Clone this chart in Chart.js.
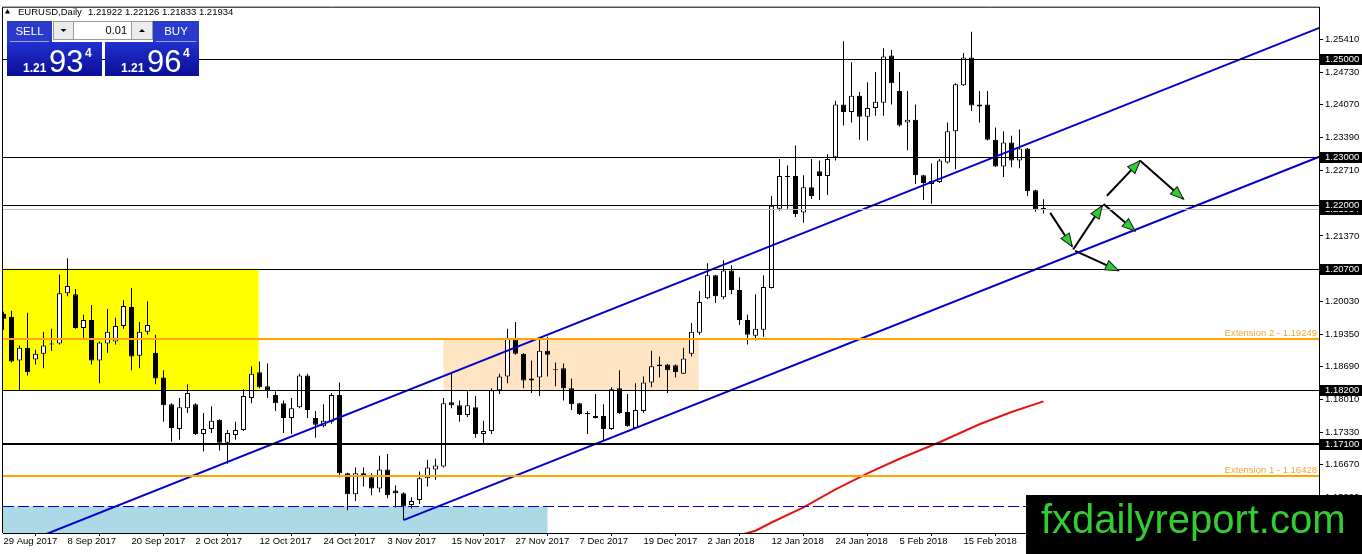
<!DOCTYPE html>
<html lang="en">
<head>
<meta charset="UTF-8">
<title>EURUSD, Daily</title>
<script src="https://cdn.jsdelivr.net/npm/chart.js"></script>
<style>
  html, body { margin: 0; padding: 0; background: #fff; overflow: hidden; }
  canvas { display: block; }
</style>
</head>
<body>
<canvas id="chart" width="1362" height="554"></canvas>
<script>
// ---- candles, one per trading day starting 29 Aug 2017 (bar index = position) ----
const opens = [
  1.1977, 1.1971, 1.1881, 1.1907, 1.1883, 1.1895, 1.1916, 1.1916, 1.2019, 1.2017,
  1.1948, 1.1964, 1.1881, 1.1916, 1.1920, 1.1952, 1.1991, 1.1891, 1.1940, 1.1897,
  1.1846, 1.1791, 1.1740, 1.1783, 1.1791, 1.1730, 1.1740, 1.1759, 1.1712, 1.1728,
  1.1738, 1.1804, 1.1857, 1.1828, 1.1810, 1.1793, 1.1763, 1.1785, 1.1850, 1.1763,
  1.1746, 1.1755, 1.1810, 1.1649, 1.1606, 1.1649, 1.1641, 1.1618, 1.1657, 1.1614,
  1.1608, 1.1584, 1.1594, 1.1639, 1.1657, 1.1663, 1.1795, 1.1789, 1.1769, 1.1785,
  1.1730, 1.1736, 1.1820, 1.1848, 1.1924, 1.1895, 1.1840, 1.1846, 1.1901, 1.1863,
  1.1865, 1.1824, 1.1793, 1.1773, 1.1763, 1.1767, 1.1740, 1.1824, 1.1775, 1.1742,
  1.1777, 1.1836, 1.1869, 1.1873, 1.1871, 1.1854, 1.1895, 1.1938, 1.2009, 1.2056,
  1.2011, 1.2066, 1.2026, 1.1964, 1.1932, 1.1944, 1.2030, 1.2193, 1.2260, 1.2260,
  1.2185, 1.2237, 1.2270, 1.2260, 1.2299, 1.2407, 1.2392, 1.2425, 1.2382, 1.2400,
  1.2411, 1.2508, 1.2435, 1.2370, 1.2376, 1.2262, 1.2244, 1.2248, 1.2288, 1.2352,
  1.2447, 1.2504, 1.2403, 1.2407, 1.2335, 1.2280, 1.2329, 1.2292, 1.2317, 1.2231,
  1.21922
];
const highs = [
  1.1981, 1.1983, 1.1912, 1.1979, 1.1903, 1.1940, 1.1946, 1.2058, 1.2091, 1.2028,
  1.1975, 1.1995, 1.1920, 1.1987, 1.1969, 1.2005, 1.2030, 1.1960, 1.2003, 1.1934,
  1.1861, 1.1793, 1.1804, 1.1832, 1.1793, 1.1773, 1.1787, 1.1760, 1.1738, 1.1755,
  1.1822, 1.1869, 1.1879, 1.1875, 1.1818, 1.1799, 1.1804, 1.1854, 1.1854, 1.1777,
  1.1791, 1.1814, 1.1836, 1.1650, 1.1661, 1.1661, 1.1649, 1.1685, 1.1689, 1.1624,
  1.1610, 1.1600, 1.1653, 1.1677, 1.1679, 1.1804, 1.1854, 1.1799, 1.1818, 1.1808,
  1.1757, 1.1824, 1.1854, 1.1946, 1.1960, 1.1896, 1.1881, 1.1924, 1.1930, 1.1877,
  1.1875, 1.1844, 1.1794, 1.1777, 1.1812, 1.1791, 1.1826, 1.1861, 1.1812, 1.1834,
  1.1848, 1.1901, 1.1889, 1.1874, 1.1873, 1.1907, 1.1958, 1.2024, 1.2081, 1.2057,
  1.2087, 1.2077, 1.2052, 1.1975, 1.2017, 1.2056, 1.2219, 1.2295, 1.2282, 1.2323,
  1.2262, 1.2295, 1.2292, 1.2305, 1.2415, 1.2537, 1.2494, 1.2433, 1.2453, 1.2474,
  1.2523, 1.2519, 1.2474, 1.2435, 1.2407, 1.2263, 1.2286, 1.2295, 1.2370, 1.2451,
  1.2513, 1.2557, 1.2435, 1.2435, 1.2360, 1.2352, 1.2343, 1.2356, 1.2318, 1.2232,
  1.22126
];
const lows = [
  1.1944, 1.1877, 1.1820, 1.1850, 1.1873, 1.1865, 1.1901, 1.1914, 1.2013, 1.1946,
  1.1926, 1.1873, 1.1834, 1.1897, 1.1914, 1.1946, 1.1861, 1.1865, 1.1934, 1.1832,
  1.1755, 1.1714, 1.1718, 1.1773, 1.1728, 1.1694, 1.1732, 1.1696, 1.1669, 1.1718,
  1.1736, 1.1793, 1.1824, 1.1804, 1.1777, 1.1732, 1.1730, 1.1783, 1.1763, 1.1722,
  1.1744, 1.1751, 1.1641, 1.1573, 1.1592, 1.1622, 1.1604, 1.1610, 1.1598, 1.1579,
  1.1553, 1.1577, 1.1586, 1.1622, 1.1636, 1.1661, 1.1783, 1.1755, 1.1765, 1.1722,
  1.1710, 1.1730, 1.1812, 1.1834, 1.1893, 1.1824, 1.1814, 1.1808, 1.1848, 1.1828,
  1.1799, 1.1779, 1.1769, 1.1730, 1.1762, 1.1716, 1.1738, 1.1771, 1.1745, 1.1740,
  1.1773, 1.1826, 1.1846, 1.1814, 1.1846, 1.1853, 1.1889, 1.1934, 1.2007, 1.1999,
  1.2007, 1.2017, 1.1954, 1.1914, 1.1922, 1.1930, 1.2029, 1.2189, 1.2193, 1.2176,
  1.2164, 1.2213, 1.2211, 1.2221, 1.2292, 1.2364, 1.2370, 1.2335, 1.2333, 1.2384,
  1.2384, 1.2407, 1.2362, 1.2313, 1.2244, 1.2211, 1.2203, 1.2246, 1.2286, 1.2274,
  1.2445, 1.2394, 1.2370, 1.2333, 1.2279, 1.2258, 1.2278, 1.2276, 1.2219, 1.2187,
  1.21833
];
const closes = [
  1.1967, 1.1879, 1.1907, 1.1857, 1.1895, 1.1912, 1.1914, 1.2019, 1.2034, 1.1948,
  1.1964, 1.1881, 1.1918, 1.1940, 1.1952, 1.1993, 1.1889, 1.1940, 1.1954, 1.1844,
  1.1789, 1.1742, 1.1785, 1.1814, 1.1730, 1.1740, 1.1757, 1.1712, 1.1732, 1.1738,
  1.1808, 1.1854, 1.1826, 1.1820, 1.1793, 1.1763, 1.1783, 1.1850, 1.1779, 1.1749,
  1.1757, 1.1810, 1.1649, 1.1606, 1.1649, 1.1645, 1.1618, 1.1657, 1.1604, 1.1608,
  1.1581, 1.1592, 1.1639, 1.1661, 1.1665, 1.1793, 1.1789, 1.1769, 1.1789, 1.1730,
  1.1736, 1.1820, 1.1848, 1.1928, 1.1895, 1.1840, 1.1844, 1.1901, 1.1893, 1.1861,
  1.1824, 1.1791, 1.1771, 1.1771, 1.1767, 1.1740, 1.1822, 1.1773, 1.1746, 1.1779,
  1.1836, 1.1869, 1.1873, 1.1861, 1.1857, 1.1885, 1.1940, 1.2001, 1.2056, 1.2013,
  1.2066, 1.2026, 1.1964, 1.1934, 1.1946, 1.2032, 1.2199, 1.2260, 1.2258, 1.2182,
  1.2237, 1.2219, 1.2260, 1.2295, 1.2407, 1.2392, 1.2425, 1.2382, 1.2400, 1.2413,
  1.2506, 1.2451, 1.2364, 1.2376, 1.2262, 1.2246, 1.2250, 1.2292, 1.2352, 1.2449,
  1.2504, 1.2405, 1.2407, 1.2335, 1.2280, 1.2329, 1.2292, 1.2317, 1.2229, 1.2192,
  1.21934
];
const askPrice = 1.21964;

// ---- axes ----
const dateTickBars = [0, 8, 16, 24, 32, 40, 48, 56, 64, 72, 80, 88, 96, 104, 112, 120];
const dateTickLabels = ['29 Aug 2017', '8 Sep 2017', '20 Sep 2017', '2 Oct 2017', '12 Oct 2017',
  '24 Oct 2017', '3 Nov 2017', '15 Nov 2017', '27 Nov 2017', '7 Dec 2017', '19 Dec 2017',
  '2 Jan 2018', '12 Jan 2018', '24 Jan 2018', '5 Feb 2018', '15 Feb 2018'];
const priceTicks = [1.2541, 1.2473, 1.2407, 1.2339, 1.2271, 1.2137, 1.2003, 1.1935,
  1.1869, 1.1801, 1.1733, 1.1667, 1.1599];

// ---- drawn objects (bar index, price) ----
const levelLines = [1.25, 1.23, 1.22, 1.207, 1.182, 1.171];
const extensionLevels = [1.19249, 1.16428];
const extensionNames = ['Extension 2', 'Extension 1'];
const dashedLevel = 1.1581;

const zoneStart = [-5, 55, -5];
const zoneEnd = [31.9, 86.9, 68];
const zoneHigh = [1.207, 1.19249, 1.1581];
const zoneLow = [1.182, 1.182, 1.14];

const upperChannel = [[0, 1.14894], [164.5, 1.25648]];
const lowerChannel = [[50, 1.1553], [164.5, 1.2300]];

const maBars = [92, 94, 96, 100, 104, 108, 112, 117, 122, 126, 130];
const maValues = [1.1522, 1.1531, 1.1548, 1.1579, 1.1616, 1.1649, 1.1679, 1.1713, 1.1750, 1.1775, 1.1797];

const arrowFrom = [[130.84, 1.21845], [133.71, 1.21091], [137.5, 1.22028],
  [133.96, 1.21064], [137.93, 1.22197], [142.09, 1.22918]];
const arrowTo = [[133.59, 1.21152], [137.34, 1.21993], [141.46, 1.21472],
  [139.38, 1.20657], [142.09, 1.22918], [147.5, 1.2213]];

// ---- styles ----
const FONT = "'Liberation Sans', Arial, sans-serif";
const zoneColors = ['#FFFF00', '#FFE4C4', '#ADD8E6'];
const levelWidths = [1, 1, 1, 1, 1, 2];
const last = closes.length - 1;

Chart.defaults.font.family = FONT;

function lineSet(points, color, width, order) {
  return {
    type: 'line',
    data: points.map(p => ({ x: p[0], y: p[1] })),
    borderColor: color,
    borderWidth: width,
    pointRadius: 0,
    tension: 0,
    fill: false,
    order: order
  };
}

const arrowSets = arrowFrom.map((p, i) => Object.assign(lineSet([p, arrowTo[i]], '#000', 2, 0), { isArrow: true }));

function drawHead(ctx, from, to) {
  const ang = Math.atan2(to.y - from.y, to.x - from.x);
  ctx.save();
  ctx.translate(to.x, to.y);
  ctx.rotate(ang);
  ctx.beginPath();
  ctx.moveTo(0, 0);
  ctx.lineTo(-13, -5);
  ctx.lineTo(-13, 5);
  ctx.closePath();
  ctx.fillStyle = '#32CD32';
  ctx.fill();
  ctx.strokeStyle = '#1a1a1a';
  ctx.lineWidth = 1;
  ctx.stroke();
  ctx.restore();
}

function drawPanel(ctx, bid, ask) {
  const blocks = [[7, 102, 7, 52, 'SELL', bid], [105, 199, 153, 199, 'BUY', ask]];
  blocks.forEach(b => {
    const g = ctx.createLinearGradient(0, 42, 0, 76);
    g.addColorStop(0, '#2230D0');
    g.addColorStop(1, '#0B0E96');
    ctx.fillStyle = g;
    ctx.fillRect(b[0], 42, b[1] - b[0], 34);
    ctx.fillStyle = '#2A3ACC';
    ctx.fillRect(b[2], 21, b[3] - b[2], 21);
    ctx.strokeStyle = 'rgba(255,255,255,0.55)';
    ctx.lineWidth = 1;
    ctx.beginPath();
    ctx.moveTo(b[2] + 3, 41.5);
    ctx.lineTo(b[3] - 3, 41.5);
    ctx.stroke();
    ctx.fillStyle = '#fff';
    ctx.font = '11.5px ' + FONT;
    ctx.textAlign = 'center';
    ctx.textBaseline = 'middle';
    ctx.fillText(b[4], (b[2] + b[3]) / 2, 31.5);
    const s = b[5].toFixed(5);
    ctx.textAlign = 'left';
    ctx.textBaseline = 'alphabetic';
    ctx.font = 'bold 12px ' + FONT;
    ctx.fillText(s.slice(0, 4), b[0] + 16, 72);
    ctx.font = '31px ' + FONT;
    ctx.fillText(s.slice(4, 6), b[0] + 42, 72);
    ctx.font = 'bold 12px ' + FONT;
    ctx.fillText(s.slice(6), b[0] + 78, 56.5);
  });
  // lot size control
  ctx.fillStyle = '#fff';
  ctx.fillRect(53, 21, 100, 19);
  ctx.fillStyle = '#ECECEC';
  ctx.fillRect(53, 21, 20, 19);
  ctx.fillRect(132, 21, 21, 19);
  ctx.strokeStyle = '#9A9A9A';
  ctx.strokeRect(53.5, 21.5, 99, 18);
  ctx.beginPath();
  ctx.moveTo(73.5, 21);
  ctx.lineTo(73.5, 40);
  ctx.moveTo(131.5, 21);
  ctx.lineTo(131.5, 40);
  ctx.stroke();
  ctx.fillStyle = '#000';
  ctx.beginPath();
  ctx.moveTo(60.5, 29); ctx.lineTo(66.5, 29); ctx.lineTo(63.5, 32);
  ctx.closePath(); ctx.fill();
  ctx.beginPath();
  ctx.moveTo(139, 32); ctx.lineTo(145, 32); ctx.lineTo(142, 29);
  ctx.closePath(); ctx.fill();
  ctx.font = '11px ' + FONT;
  ctx.textAlign = 'right';
  ctx.textBaseline = 'middle';
  ctx.fillText('0.01', 127, 31);
}

const drawings = {
  id: 'drawings',
  beforeDatasetsDraw(chart) {
    const { ctx, chartArea: a, scales: { x, y } } = chart;
    ctx.save();
    ctx.beginPath();
    ctx.rect(a.left, a.top, a.right - a.left, a.bottom - a.top);
    ctx.clip();
    zoneStart.forEach((s, i) => {
      const x1 = x.getPixelForValue(s), x2 = x.getPixelForValue(zoneEnd[i]);
      const y1 = y.getPixelForValue(zoneHigh[i]), y2 = y.getPixelForValue(zoneLow[i]);
      ctx.fillStyle = zoneColors[i];
      ctx.fillRect(x1, y1, x2 - x1, y2 - y1);
    });
    ctx.restore();
  },
  afterDatasetsDraw(chart) {
    const { ctx, chartArea: a, scales: { x, y } } = chart;
    ctx.save();
    ctx.beginPath();
    ctx.rect(a.left, a.top, a.right - a.left, a.bottom - a.top);
    ctx.clip();
    const hline = (v, color, width, dash) => {
      const p = Math.round(y.getPixelForValue(v)) + (width % 2 ? 0.5 : 0);
      ctx.beginPath();
      ctx.setLineDash(dash || []);
      ctx.strokeStyle = color;
      ctx.lineWidth = width;
      ctx.moveTo(a.left, p);
      ctx.lineTo(a.right, p);
      ctx.stroke();
    };
    hline(dashedLevel, '#0000CD', 1, [11, 4]);
    hline(closes[last], '#C0C0C0', 1);
    levelLines.forEach((v, i) => hline(v, '#000', levelWidths[i]));
    extensionLevels.forEach(v => hline(v, '#FFA500', 2));
    ctx.setLineDash([]);
    ctx.font = '9.5px ' + FONT;
    ctx.fillStyle = '#F2A43A';
    ctx.textAlign = 'right';
    ctx.textBaseline = 'alphabetic';
    extensionLevels.forEach((v, i) => {
      ctx.fillText(extensionNames[i] + ' - ' + v.toFixed(5), a.right - 2, y.getPixelForValue(v) - 3);
    });
    chart.data.datasets.forEach((ds, i) => {
      if (!ds.isArrow) return;
      const pts = chart.getDatasetMeta(i).data;
      drawHead(ctx, pts[0], pts[1]);
    });
    ctx.restore();
  },
  afterDraw(chart) {
    const { ctx, chartArea: a, scales: { y } } = chart;
    ctx.save();
    // frame
    ctx.strokeStyle = '#000';
    ctx.lineWidth = 1;
    ctx.beginPath();
    ctx.moveTo(a.left - 0.5, a.bottom);
    ctx.lineTo(a.left - 0.5, a.top - 0.5);
    ctx.lineTo(a.right + 0.5, a.top - 0.5);
    ctx.stroke();
    // price boxes on the right scale
    ctx.font = '9.5px ' + FONT;
    ctx.textAlign = 'left';
    ctx.textBaseline = 'middle';
    [closes[last]].concat(levelLines).forEach(v => {
      const p = Math.round(y.getPixelForValue(v));
      ctx.fillStyle = '#000';
      ctx.fillRect(a.right + 1, p - 5, 42, 11);
      ctx.fillStyle = '#fff';
      ctx.fillText(v.toFixed(5), a.right + 6, p + 0.5);
    });
    // header
    ctx.fillStyle = '#000';
    ctx.beginPath();
    ctx.moveTo(5, 13.5); ctx.lineTo(10, 13.5); ctx.lineTo(7.5, 9);
    ctx.closePath(); ctx.fill();
    ctx.textBaseline = 'alphabetic';
    ctx.fillText('EURUSD,Daily', 18, 14.5);
    ctx.fillText([opens[last], highs[last], lows[last], closes[last]].map(v => v.toFixed(5)).join(' '), 88, 14.5);
    drawPanel(ctx, closes[last], askPrice);
    // watermark
    ctx.fillStyle = '#000';
    ctx.fillRect(1026, 495, 336, 59);
    ctx.fillStyle = '#32CD32';
    ctx.font = '40px ' + FONT;
    ctx.textAlign = 'left';
    ctx.textBaseline = 'alphabetic';
    ctx.fillText('fxdailyreport.com', 1041, 533);
    ctx.restore();
  }
};

new Chart(document.getElementById('chart'), {
  type: 'bar',
  data: {
    datasets: [
      lineSet(upperChannel, '#0000CD', 2, 0),
      lineSet(lowerChannel, '#0000CD', 2, 0),
      lineSet(maBars.map((b, i) => [b, maValues[i]]), '#E81414', 2, 1)
    ].concat(arrowSets, [
      {
        type: 'bar',
        data: opens.map((o, i) => ({ x: i, y: [o, closes[i]] })),
        backgroundColor: c => closes[c.dataIndex] >= opens[c.dataIndex] ? '#fff' : '#000',
        borderColor: '#000',
        borderWidth: 1,
        borderSkipped: false,
        barThickness: 5,
        minBarLength: 1,
        grouped: false,
        inflateAmount: 0,
        order: 2
      },
      {
        type: 'bar',
        data: lows.map((l, i) => ({ x: i, y: [l, highs[i]] })),
        backgroundColor: '#000',
        borderWidth: 0,
        barThickness: 1,
        grouped: false,
        inflateAmount: 0,
        order: 3
      }
    ])
  },
  options: {
    responsive: false,
    animation: false,
    events: [],
    layout: { padding: { left: 3, top: 3, right: 0, bottom: 0 }, autoPadding: false },
    plugins: { legend: { display: false }, tooltip: { enabled: false } },
    scales: {
      x: {
        type: 'linear',
        min: -0.0625,
        max: 164.4375,
        offset: false,
        bounds: 'data',
        afterFit: s => { s.height = 21; },
        afterBuildTicks: s => { s.ticks = dateTickBars.map(v => ({ value: v })); },
        grid: { drawOnChartArea: false, drawTicks: true, tickLength: 3, color: '#000' },
        border: { display: true, color: '#000' },
        ticks: {
          autoSkip: false, maxRotation: 0, minRotation: 0, align: 'start', padding: 0,
          color: '#000', font: { size: 9.5 },
          callback: (v, i) => dateTickLabels[i]
        }
      },
      y: {
        type: 'linear',
        position: 'right',
        min: 1.15264,
        max: 1.26062,
        bounds: 'data',
        afterFit: s => { s.width = 43; },
        afterBuildTicks: s => { s.ticks = priceTicks.map(v => ({ value: v })); },
        grid: { drawOnChartArea: false, drawTicks: true, tickLength: 4, color: '#000' },
        border: { display: true, color: '#000' },
        ticks: {
          padding: 2, color: '#000', font: { size: 9.5 },
          callback: v => v.toFixed(5)
        }
      }
    }
  },
  plugins: [drawings]
});
</script>
</body>
</html>
